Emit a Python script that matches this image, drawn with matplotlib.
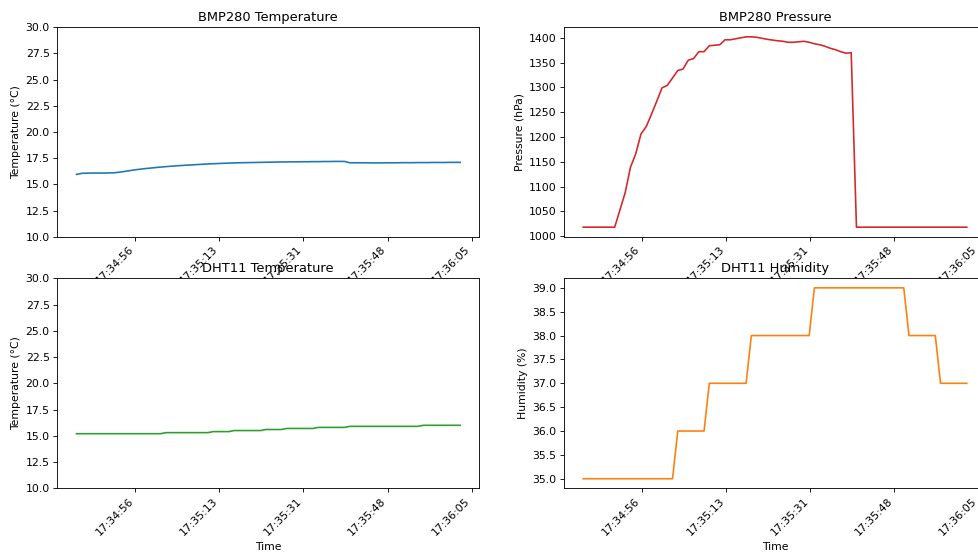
import matplotlib
matplotlib.use("Agg")
import matplotlib.pyplot as plt
import matplotlib.dates as mdates
from matplotlib.ticker import FixedLocator
import pandas as pd

# ---- data ----
start_time = "2024-01-01 17:34:44.45"
n_samples = 74
sample_interval = "1078ms"

bmp_temp = [15.95, 16.05, 16.07, 16.08, 16.08, 16.08, 16.09, 16.10, 16.15, 16.22,
            16.30, 16.38, 16.44, 16.50, 16.55, 16.60, 16.65, 16.69, 16.73, 16.77,
            16.80, 16.83, 16.86, 16.89, 16.92, 16.95, 16.97, 16.99, 17.01, 17.03,
            17.05, 17.06, 17.07, 17.08, 17.09, 17.10, 17.11, 17.12, 17.13, 17.14,
            17.14, 17.15, 17.15, 17.16, 17.16, 17.17, 17.17, 17.18, 17.18, 17.19,
            17.19, 17.19, 17.06, 17.06, 17.06, 17.06, 17.05, 17.05, 17.05, 17.06,
            17.06, 17.06, 17.07, 17.07, 17.07, 17.08, 17.08, 17.08, 17.09, 17.09,
            17.09, 17.10, 17.10, 17.10]

bmp_pressure = [1018, 1018, 1018, 1018, 1018, 1018, 1018, 1053, 1088, 1139,
                1166, 1206, 1221, 1246, 1272, 1299, 1304, 1319, 1334, 1337,
                1355, 1358, 1372, 1372, 1384, 1385, 1386, 1396, 1396, 1398,
                1400, 1402, 1402, 1401, 1399, 1397, 1395.5, 1394, 1393, 1391,
                1391, 1392, 1393, 1391, 1388, 1386, 1383, 1379, 1376, 1372,
                1369, 1370, 1018, 1018, 1018, 1018, 1018, 1018, 1018, 1018,
                1018, 1018, 1018, 1018, 1018, 1018, 1018, 1018, 1018, 1018,
                1018, 1018, 1018, 1018]

dht_temp = ([15.2] * 17 + [15.3] * 9 + [15.4] * 4 + [15.5] * 6 + [15.6] * 4 +
            [15.7] * 6 + [15.8] * 6 + [15.9] * 14 + [16.0] * 8)

dht_humidity = ([35.0] * 18 + [36.0] * 6 + [37.0] * 8 + [38.0] * 12 +
                [39.0] * 18 + [38.0] * 6 + [37.0] * 6)

tick_start = "2024-01-01 17:34:56.5"
tick_count = 5
tick_interval = "17250ms"

times = pd.date_range(start_time, periods=n_samples, freq=sample_interval)
ticks = pd.date_range(tick_start, periods=tick_count, freq=tick_interval)

W, H = 978, 554
DPI = 78
fig = plt.figure(figsize=(W / DPI, H / DPI), dpi=DPI)

def frac(x0, y_top, x1, y_bot):
    return [x0 / W, 1 - y_bot / H, (x1 - x0) / W, (y_bot - y_top) / H]

ax_bt = fig.add_axes(frac(57.3, 27.3, 479.3, 236.7))
ax_bp = fig.add_axes(frac(564, 27.3, 986, 236.7))
ax_dt = fig.add_axes(frac(57.3, 278.3, 479.3, 488.3))
ax_dh = fig.add_axes(frac(564, 278.3, 986, 488.3))

ax_bt.plot(times, bmp_temp, color="tab:blue")
ax_bt.set_title("BMP280 Temperature")
ax_bt.set_ylabel("Temperature (°C)")
ax_bt.set_ylim(10, 30)

ax_bp.plot(times, bmp_pressure, color="tab:red")
ax_bp.set_title("BMP280 Pressure")
ax_bp.set_ylabel("Pressure (hPa)")

ax_dt.plot(times, dht_temp, color="tab:green")
ax_dt.set_title("DHT11 Temperature")
ax_dt.set_ylabel("Temperature (°C)")
ax_dt.set_ylim(10, 30)
ax_dt.set_xlabel("Time")

ax_dh.plot(times, dht_humidity, color="tab:orange")
ax_dh.set_title("DHT11 Humidity")
ax_dh.set_ylabel("Humidity (%)")
ax_dh.set_xlabel("Time")

for ax in (ax_bt, ax_bp, ax_dt, ax_dh):
    ax.xaxis.set_major_locator(FixedLocator(mdates.date2num(ticks.to_pydatetime())))
    ax.xaxis.set_major_formatter(mdates.DateFormatter("%H:%M:%S"))
    for lbl in ax.get_xticklabels():
        lbl.set_rotation(45)
        lbl.set_ha("right")

fig.savefig("out.png", dpi=DPI)
